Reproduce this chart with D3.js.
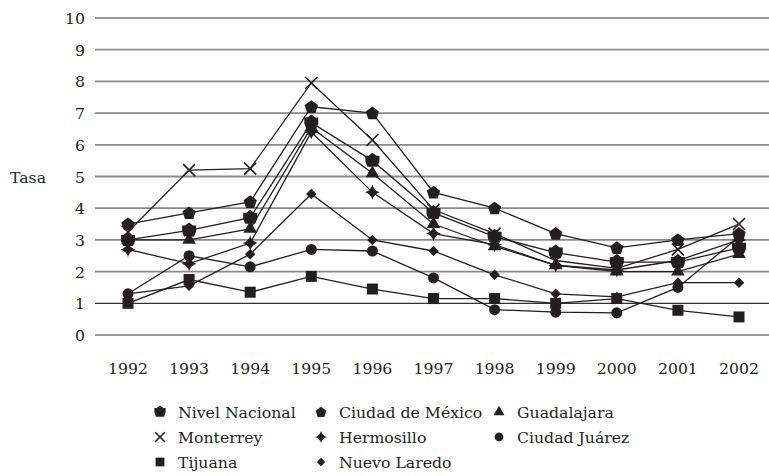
<!DOCTYPE html>
<html>
<head>
<meta charset="utf-8">
<script src="https://cdn.jsdelivr.net/npm/d3@7"></script>
<style>
  body { margin: 0; background: #fff; }
</style>
</head>
<body>
<svg id="chart"></svg>
<script>
const width = 769;
const height = 476;
const svg = d3.select("#chart").attr("width", width).attr("height", height);
const font = "'DejaVu Serif', 'Liberation Serif', serif";

const years = [1992, 1993, 1994, 1995, 1996, 1997, 1998, 1999, 2000, 2001, 2002];
const yTicks = [0, 1, 2, 3, 4, 5, 6, 7, 8, 9, 10];

const nivelNacional = [3.0, 3.3, 3.7, 6.7, 5.5, 3.85, 3.1, 2.6, 2.3, 2.3, 2.75];
const ciudadMexico = [3.5, 3.85, 4.2, 7.2, 7.0, 4.5, 4.0, 3.2, 2.75, 3.0, 3.2];
const guadalajara = [3.0, 3.0, 3.35, 6.55, 5.1, 3.5, 2.8, 2.2, 2.0, 2.0, 2.55];
const monterrey = [3.25, 5.2, 5.25, 7.95, 6.15, 3.95, 3.2, 2.35, 2.1, 2.7, 3.5];
const hermosillo = [2.7, 2.25, 2.9, 6.4, 4.5, 3.2, 2.85, 2.2, 2.05, 2.35, 3.0];
const ciudadJuarez = [1.3, 2.5, 2.15, 2.7, 2.65, 1.8, 0.8, 0.72, 0.7, 1.5, 3.1];
const tijuana = [1.0, 1.75, 1.35, 1.85, 1.45, 1.15, 1.15, 1.0, 1.15, 0.78, 0.57];
const nuevoLaredo = [1.3, 1.55, 2.55, 4.45, 3.0, 2.65, 1.9, 1.3, 1.2, 1.65, 1.65];

const series = [
  { name: "Nivel Nacional", values: nivelNacional, shape: "badge" },
  { name: "Ciudad de México", values: ciudadMexico, shape: "pentagon" },
  { name: "Guadalajara", values: guadalajara, shape: "triangle" },
  { name: "Monterrey", values: monterrey, shape: "cross" },
  { name: "Hermosillo", values: hermosillo, shape: "star" },
  { name: "Ciudad Juárez", values: ciudadJuarez, shape: "circle" },
  { name: "Tijuana", values: tijuana, shape: "square" },
  { name: "Nuevo Laredo", values: nuevoLaredo, shape: "diamond" }
];

const ink = "#231f20";
const x = d3.scalePoint().domain(years).range([128, 739]);
const y = d3.scaleLinear().domain([0, 10]).range([335, 18]);

// gridlines
svg.selectAll(".grid").data(yTicks).enter().append("line")
  .attr("class", "grid")
  .attr("x1", 95).attr("x2", width)
  .attr("y1", d => y(d)).attr("y2", d => y(d))
  .attr("stroke", d => (d === 10 || d <= 1) ? "#333" : "#8a8a8a")
  .attr("stroke-width", d => (d === 10 || d <= 1) ? 1.2 : 1.8);

svg.selectAll(".ytick").data(yTicks).enter().append("text")
  .attr("class", "ytick")
  .attr("x", 85).attr("y", d => y(d) + 6)
  .attr("text-anchor", "end")
  .attr("fill", ink)
  .attr("font-family", font)
  .attr("font-size", 15.7)
  .text(d => d);

svg.selectAll(".xtick").data(years).enter().append("text")
  .attr("class", "xtick")
  .attr("x", d => x(d)).attr("y", 374)
  .attr("text-anchor", "middle")
  .attr("fill", ink)
  .attr("font-family", font)
  .attr("font-size", 15.7)
  .text(d => d);

svg.append("text").attr("x", 10).attr("y", y(5) + 6)
  .attr("fill", ink).attr("font-family", font).attr("font-size", 15.7).text("Tasa");

function marker(g, shape, s) {
  if (shape === "circle") {
    g.append("circle").attr("r", 5.5 * s).attr("fill", ink);
  } else if (shape === "square") {
    g.append("rect").attr("x", -5.5 * s).attr("y", -5.5 * s)
      .attr("width", 11 * s).attr("height", 11 * s).attr("fill", ink);
  } else if (shape === "diamond") {
    g.append("path").attr("d", d3.symbol(d3.symbolDiamond2, 70 * s * s)()).attr("fill", ink);
  } else if (shape === "triangle") {
    g.append("path").attr("d", d3.symbol(d3.symbolTriangle, 80 * s * s)()).attr("fill", ink);
  } else if (shape === "pentagon") {
    const pts = d3.range(5).map(i => {
      const a = -Math.PI / 2 + i * 2 * Math.PI / 5;
      return [Math.cos(a) * 7 * s, Math.sin(a) * 7 * s + 0.5 * s];
    });
    g.append("path").attr("d", d3.line()(pts) + "Z").attr("fill", ink);
  } else if (shape === "badge") {
    const pts = [[0, -8], [4, -5], [7, -5], [7, 1], [5, 6], [-5, 6], [-7, 1], [-7, -5], [-4, -5]]
      .map(p => [p[0] * s, p[1] * s]);
    g.append("path").attr("d", d3.line()(pts) + "Z").attr("fill", ink);
  } else if (shape === "cross") {
    const r = 6 * s;
    g.append("path").attr("d", `M${-r},${-r}L${r},${r}M${-r},${r}L${r},${-r}`)
      .attr("stroke", ink).attr("stroke-width", 1.6).attr("fill", "none");
  } else if (shape === "star") {
    const r = 7.5 * s, k = 1.6 * s;
    g.append("path")
      .attr("d", `M0,${-r}Q${k},${-k} ${r},0Q${k},${k} 0,${r}Q${-k},${k} ${-r},0Q${-k},${-k} 0,${-r}Z`)
      .attr("fill", ink);
  }
}

const line = d3.line().x((d, i) => x(years[i])).y(d => y(d));

series.forEach(sr => {
  svg.append("path")
    .attr("d", line(sr.values))
    .attr("fill", "none")
    .attr("stroke", ink)
    .attr("stroke-width", 1.3);
  sr.values.forEach((v, i) => {
    const g = svg.append("g").attr("transform", `translate(${x(years[i])},${y(v)})`);
    marker(g, sr.shape, 1);
  });
});

// legend
const legendCols = [160, 321, 499];
const legendRows = [412, 437, 462];
series.forEach((sr, i) => {
  const cx = legendCols[i % 3];
  const cy = legendRows[Math.floor(i / 3)];
  const g = svg.append("g").attr("transform", `translate(${cx},${cy})`);
  marker(g, sr.shape, 0.8);
  svg.append("text").attr("x", cx + 18).attr("y", cy + 6)
    .attr("fill", ink).attr("font-family", font).attr("font-size", 15.7).text(sr.name);
});
</script>
</body>
</html>
